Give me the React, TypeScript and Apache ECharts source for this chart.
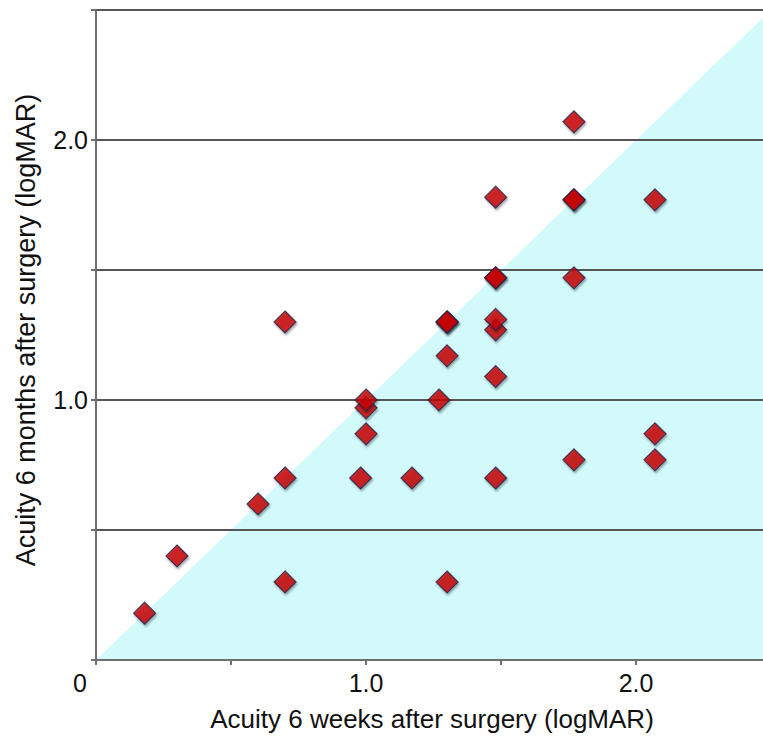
import React, { useEffect, useRef } from "react";
import * as echarts from "echarts";

const weeksAcuity = [
  0.18, 0.3, 0.6, 0.7, 0.7, 0.7, 0.98, 1.0, 1.0, 1.0, 1.17, 1.27, 1.3, 1.3, 1.3, 1.3, 1.3,
  1.48, 1.48, 1.48, 1.48, 1.48, 1.48, 1.48, 1.77, 1.77, 1.77, 1.77, 1.77, 2.07, 2.07, 2.07,
];
const monthsAcuity = [
  0.18, 0.4, 0.6, 0.3, 0.7, 1.3, 0.7, 0.87, 0.97, 1.0, 0.7, 1.0, 0.3, 1.17, 1.3, 1.3, 1.3,
  0.7, 1.09, 1.27, 1.31, 1.47, 1.47, 1.78, 0.77, 1.47, 1.77, 1.77, 2.07, 0.77, 0.87, 1.77,
];
const equalityLine = [
  [0, 0],
  [2.47, 2.47],
];
const xTickLabels: Record<string, string> = { "0": "0", "1": "1.0", "2": "2.0" };
const yTickLabels: Record<string, string> = { "1": "1.0", "2": "2.0" };
const xTitle = "Acuity 6 weeks after surgery (logMAR)";
const yTitle = "Acuity 6 months after surgery (logMAR)";

export default function App() {
  const ref = useRef<HTMLDivElement>(null);
  useEffect(() => {
    if (!ref.current) return;
    const chart = echarts.init(ref.current, null, { renderer: "svg" });
    const points = weeksAcuity.map((x, i) => [x, monthsAcuity[i]]);
    const font = "Liberation Sans, Arial, sans-serif";
    chart.setOption({
      animation: false,
      backgroundColor: "#ffffff",
      grid: { left: 96, top: 10, right: 0, bottom: 85, containLabel: false },
      graphic: [
        {
          type: "text",
          x: 432,
          y: 719,
          style: {
            text: xTitle,
            align: "center",
            verticalAlign: "middle",
            fontFamily: font,
            fontSize: 26,
            fill: "#111",
          },
        },
        {
          type: "text",
          x: 26,
          y: 330,
          rotation: Math.PI / 2,
          style: {
            text: yTitle,
            align: "center",
            verticalAlign: "middle",
            fontFamily: font,
            fontSize: 27,
            fill: "#111",
          },
        },
      ],
      xAxis: {
        type: "value",
        min: 0,
        max: 2.47,
        interval: 0.5,
        z: 3,
        axisLine: { show: true, onZero: false, lineStyle: { color: "#6e6e6e", width: 2 } },
        axisTick: { show: true, length: 5, lineStyle: { color: "#6e6e6e", width: 2 } },
        splitLine: { show: false },
        axisLabel: {
          margin: 10,
          fontFamily: font,
          fontSize: 25,
          color: "#111",
          showMaxLabel: false,
          formatter: (v: number) => {
            const k = String(Math.round(v * 100) / 100);
            if (k === "0") return "{z|0}";
            return xTickLabels[k] || "";
          },
          rich: { z: { fontFamily: font, fontSize: 25, color: "#111", padding: [0, 32, 0, 0] } },
        },
      },
      yAxis: {
        type: "value",
        min: 0,
        max: 2.5,
        interval: 0.5,
        z: 3,
        axisLine: { show: true, lineStyle: { color: "#6e6e6e", width: 2 } },
        axisTick: { show: true, length: 5, lineStyle: { color: "#6e6e6e", width: 2 } },
        splitLine: { show: true, lineStyle: { color: "#555555", width: 2 } },
        axisLabel: {
          margin: 8,
          fontFamily: font,
          fontSize: 25,
          color: "#111",
          formatter: (v: number) => yTickLabels[String(Math.round(v * 100) / 100)] || "",
        },
      },
      series: [
        {
          type: "line",
          data: equalityLine,
          symbol: "none",
          lineStyle: { width: 0, color: "#d2fafa" },
          areaStyle: { color: "#d2fafa", opacity: 1 },
          z: 1,
          silent: true,
        },
        {
          type: "scatter",
          data: points,
          symbol: "diamond",
          symbolSize: 22,
          itemStyle: {
            color: "#c80000",
            borderColor: "#222050",
            borderWidth: 1.2,
            shadowColor: "rgba(0,0,0,0.4)",
            shadowBlur: 2,
            shadowOffsetX: 1,
            shadowOffsetY: 2,
          },
          z: 5,
        },
      ],
    });
    return () => chart.dispose();
  }, []);
  return (
    <div
      ref={ref}
      style={{ position: "fixed", left: 0, top: 0, width: 763, height: 745 }}
    />
  );
}
